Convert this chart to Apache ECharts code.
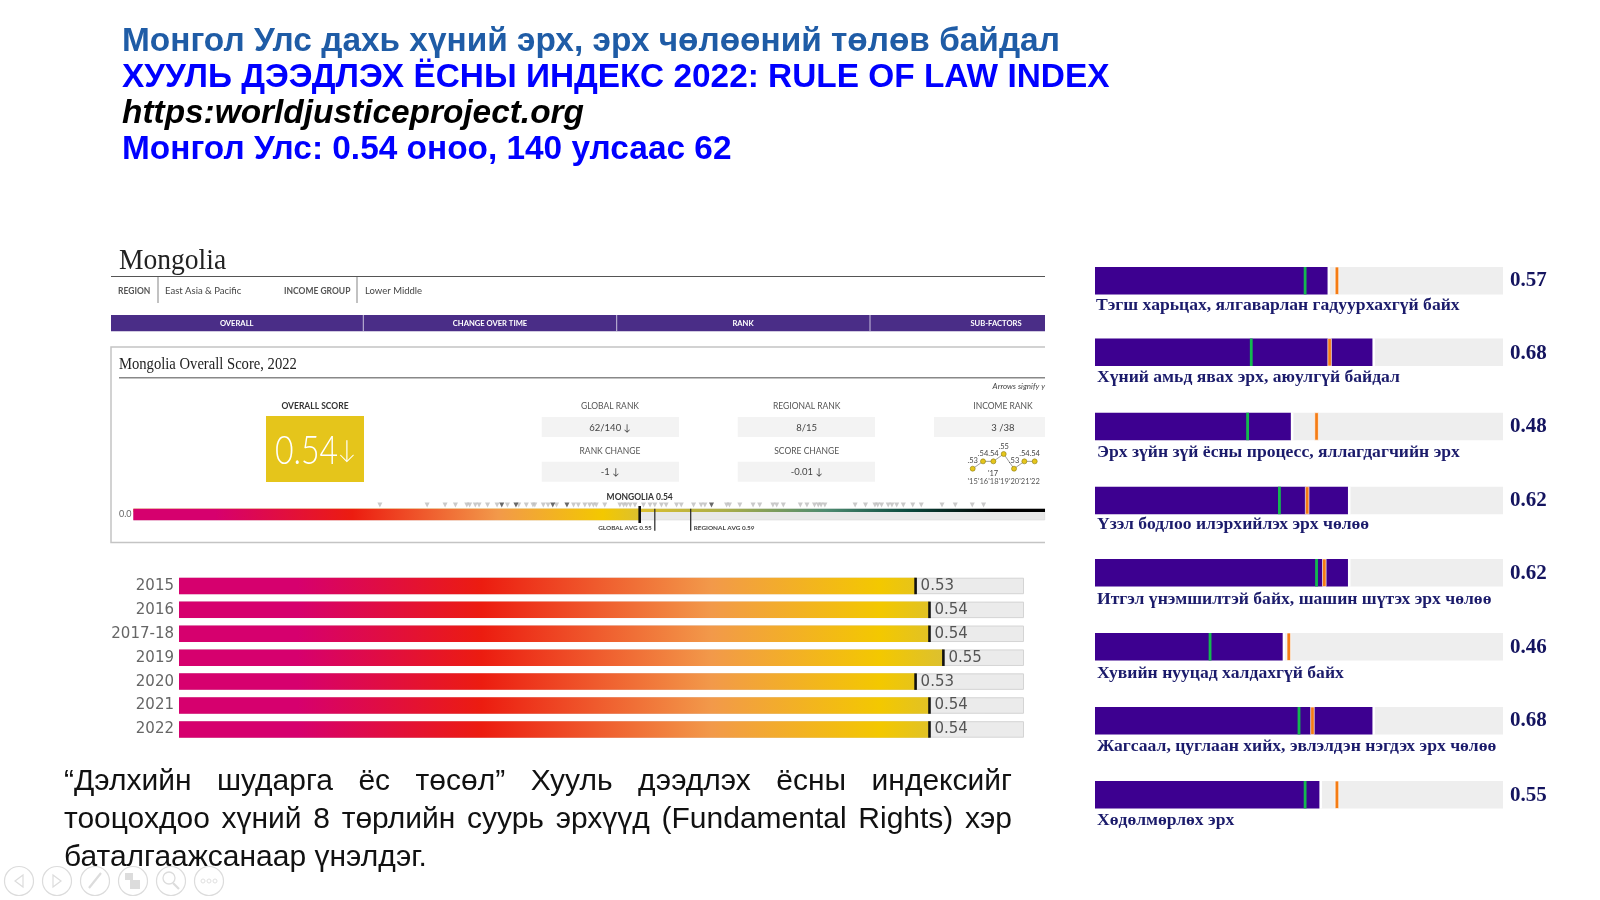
<!DOCTYPE html>
<html><head><meta charset="utf-8">
<style>html,body{margin:0;padding:0;background:#fff}#c{width:1600px;height:900px}</style>
<script src="https://cdn.jsdelivr.net/npm/echarts@6/dist/echarts.min.js"></script>
</head><body><div id="c"></div>
<script>
// ---------- data ----------
const titleLines = ['Монгол Улс дахь хүний эрх, эрх чөлөөний төлөв байдал','ХУУЛЬ ДЭЭДЛЭХ ЁСНЫ ИНДЕКС 2022: RULE OF LAW INDEX','https:worldjusticeproject.org','Монгол Улс: 0.54 оноо, 140 улсаас 62'];
const yearLabels = ['2015','2016','2017-18','2019','2020','2021','2022'];
const yearScores = [0.53,0.54,0.54,0.55,0.53,0.54,0.54];
const rightCategories = ['Тэгш харьцах, ялгаварлан гадуурхахгүй байх','Хүний амьд явах эрх, аюулгүй байдал','Эрх зүйн зүй ёсны процесс, яллагдагчийн эрх','Үзэл бодлоо илэрхийлэх эрх чөлөө','Итгэл үнэмшилтэй байх, шашин шүтэх эрх чөлөө','Хувийн нууцад халдахгүй байх','Жагсаал, цуглаан хийх, эвлэлдэн нэгдэх эрх чөлөө','Хөдөлмөрлөх эрх'];
const rightScores = [0.57,0.68,0.48,0.62,0.62,0.46,0.68,0.55];
const rightGreen = [0.515,0.383,0.374,0.452,0.543,0.282,0.50,0.515];
const rightOrange = [0.593,0.575,0.543,0.52,0.562,0.475,0.533,0.593];
const miniYears = ["'15","'16","'18","'19","'20","'21","'22"];
const miniScores = [0.53,0.54,0.54,0.55,0.53,0.54,0.54];
const miniLabels = ['.53','.54','.54','.55','.53','.54','.54'];
const countryMarks = [.261,.311,.330,.341,.353,.356,.362,.366,.375,.385,.396,.408,.416,.423,.425,.434,.439,.448,.466,.471,.478,.483,.487,.490,.499,.515,.519,.522,.526,.531,.540,.547,.552,.559,.564,.575,.580,.593,.601,.605,.628,.631,.642,.656,.663,.677,.681,.688,.706,.713,.721,.725,.728,.732,.764,.775,.785,.788,.792,.799,.803,.808,.815,.825,.834,.856,.870,.888,.900];
const countryMarksDark = [.390,.405,.444,.459,.612];
const scoreMarks = [{v:.536,name:'MONGOLIA 0.54'},{v:.552,name:'GLOBAL AVG 0.55'},{v:.590,name:'REGIONAL AVG 0.59'}];
const mongoliaBar = 0.536;
const paragraph = ['“Дэлхийн шударга ёс төсөл” Хууль дээдлэх ёсны индексийг','тооцохдоо хүний 8 төрлийн суурь эрхүүд (Fundamental Rights) хэр','баталгаажсанаар үнэлдэг.'];
const statCols = [['GLOBAL RANK','62/140 ↓','RANK CHANGE','-1 ↓'],['REGIONAL RANK','8/15','SCORE CHANGE','-0.01 ↓'],['INCOME RANK','3 /38']];
const headerTabs = ['OVERALL','CHANGE OVER TIME','RANK','SUB-FACTORS'];

// ---------- layout ----------
const W = 1600, H = 900;
const rowTops = [267,338.5,412.7,486.7,559,633,707,781];
const rowLabelY = [305,377.7,452,524,599,673.7,746.7,820];
const rowLabelX = [1096,1097,1097,1097,1097,1097,1097,1097];
const rowValueShift = [0,1,0,0,1,1,0,1];
const SANS = '"Liberation Sans", Arial, sans-serif', SERIF='"Liberation Serif", serif', LATO='Lato, sans-serif';
const G = echarts.graphic;
const heatStops = [{offset:0,color:'#d6006e'},{offset:.14,color:'#d6006e'},{offset:.358,color:'#ec1c10'},{offset:.63,color:'#f2994a'},{offset:.83,color:'#f3c800'},{offset:.905,color:'#dcc030'},{offset:1,color:'#dcc030'}];
const yearGrad = new G.LinearGradient(179,0,1024,0,heatStops,true);
const distGrad = new G.LinearGradient(133.3,0,1045,0,[{offset:0,color:'#d6006e'},{offset:.09,color:'#d6006e'},{offset:.24,color:'#ec1c10'},{offset:.40,color:'#f2994a'},{offset:.515,color:'#f3c800'},{offset:.556,color:'#dcc030'},{offset:1,color:'#dcc030'}],true);
const stripGrad = new G.LinearGradient(133.3,0,1045,0,[{offset:0,color:'#e5c51b'},{offset:.556,color:'#dcc030'},{offset:.65,color:'#a9ad4a'},{offset:.76,color:'#4d8a70'},{offset:.85,color:'#0b4a3e'},{offset:.945,color:'#000'},{offset:1,color:'#000'}],true);

// ---------- graphic helpers ----------
const gfx = [];
function txt(x,y,text,font,fill,align,sx){gfx.push({type:'text',x,y,scaleX:sx||1,silent:true,style:{text,font,fill,align:align||'left',verticalAlign:'middle'}});}
function rect(x,y,w,h,fill){gfx.push({type:'rect',silent:true,shape:{x,y,width:w,height:h},style:{fill}});}
function line(x1,y1,x2,y2,stroke,lw){gfx.push({type:'line',silent:true,shape:{x1,y1,x2,y2},style:{stroke,lineWidth:lw||1}});}

// titles
const titleFont='bold 33.4px '+SANS;
txt(122,42,titleLines[0],titleFont,'#1f5ca6');
txt(122,77.5,titleLines[1],titleFont,'#0000ff');
txt(122,113.5,titleLines[2],'italic bold 33.4px '+SANS,'#000');
txt(122,149.5,titleLines[3],titleFont,'#0000ff');

// header
txt(119,261,'Mongolia','29px '+SERIF,'#222','left',.95);
line(111,276.5,1045,276.5,'#555',1.2);
txt(118,291,'REGION','bold 8.5px '+LATO,'#555');
line(158,277,158,303,'#999',1.2);
txt(165,290.5,'East Asia & Pacific','9.5px '+LATO,'#444');
txt(284,291,'INCOME GROUP','bold 8.5px '+LATO,'#555');
line(357,277,357,303,'#999',1.2);
txt(365,290.5,'Lower Middle','9.5px '+LATO,'#444');
rect(111,315,934,16.3,'#4a2d87');
[363.3,616.7,870].forEach(x=>line(x,315,x,331.3,'#c9c2dd',1));
[236.7,490,743,996].forEach((x,i)=>txt(x,323.5,headerTabs[i],'bold 7.6px '+LATO,'#fff','center'));
// panel
gfx.push({type:'polyline',silent:true,shape:{points:[[1045,347],[111,347],[111,542.5],[1045,542.5]]},style:{stroke:'#c4c4c4',lineWidth:1.5,fill:null}});
txt(119,365,'Mongolia Overall Score, 2022','17px '+SERIF,'#222','left',.86);
line(119,377.7,1045,377.7,'#888',1.4);
txt(1045,386,'Arrows signify y','italic 8px '+LATO,'#444','right');
txt(315,406,'OVERALL SCORE','bold 8.5px '+LATO,'#333','center');
rect(266,416,98,66,'#e5c51b');
txt(275,451,'0.54','300 39px '+LATO,'#fff','left',.82);
txt(347,450,'↓','300 25px '+LATO,'#fff','center');
// stat blocks
[[541.7,137.3,610],[737.7,137.3,806.7],[934,111,1003]].forEach((c,i)=>{
  const s=statCols[i];
  txt(c[2],406.5,s[0],'8.5px '+LATO,'#555','center');
  rect(c[0],417,c[1],20,'#f3f3f3');
  txt(c[2],427.5,s[1],'9.5px '+LATO,'#444','center');
  if(s[2]){
    txt(c[2],451.5,s[2],'8.5px '+LATO,'#555','center');
    rect(c[0],461.7,c[1],20,'#f3f3f3');
    txt(c[2],472,s[3],'9.5px '+LATO,'#444','center');
  }
});
txt(993,474,"'17",'7.5px '+LATO,'#444','center');
txt(119,514.5,'0.0','9px '+LATO,'#666');

// paragraph, justified to the text block
const mctx=document.createElement('canvas').getContext('2d');
const paraFont='30px '+SANS; mctx.font=paraFont;
paragraph.forEach((ln,i)=>{
  const words=ln.split(' '), y=782+i*38, x0=64, x1=1012;
  const total=words.reduce((a,w)=>a+mctx.measureText(w).width,0);
  const gap=i<paragraph.length-1?(x1-x0-total)/(words.length-1):mctx.measureText(' ').width;
  let x=x0;
  words.forEach(w=>{txt(x,y,w,paraFont,'#111');x+=mctx.measureText(w).width+gap;});
});

// right labels
rightCategories.forEach((c,i)=>txt(rowLabelX[i],rowLabelY[i],c,'bold 17.6px '+SERIF,'#1b1b6b'));

// slideshow controls
const navC='#dcdcdc';
[19,57,95,133,171,209].forEach(x=>gfx.push({type:'circle',silent:true,shape:{cx:x,cy:881,r:14.5},style:{fill:'rgba(255,255,255,.6)',stroke:navC,lineWidth:1.2}}));
gfx.push({type:'polygon',silent:true,shape:{points:[[23,875],[15,881],[23,887]]},style:{fill:null,stroke:navC,lineWidth:1.2}});
gfx.push({type:'polygon',silent:true,shape:{points:[[53,875],[61,881],[53,887]]},style:{fill:null,stroke:navC,lineWidth:1.2}});
line(89,888,101,873,navC,2.2);
rect(125,873,8,7,navC);rect(130,880,10,9,navC);
gfx.push({type:'circle',silent:true,shape:{cx:169,cy:878,r:6},style:{fill:null,stroke:navC,lineWidth:1.3}});
line(173,883,179,889,navC,2.2);
[203,209,215].forEach(x=>gfx.push({type:'circle',silent:true,shape:{cx:x,cy:881,r:2},style:{fill:null,stroke:navC,lineWidth:.9}}));

// ---------- option pieces ----------
const grids=[], xAxes=[], yAxes=[], series=[];
function addGrid(left,top,width,height,xCfg,yCfg){
  const i=grids.length;
  grids.push({left,top,width,height,containLabel:false});
  xAxes.push(Object.assign({gridIndex:i,type:'value',min:0,max:1,show:false},xCfg||{}));
  yAxes.push(Object.assign({gridIndex:i,type:'category',data:['a'],show:false},yCfg||{}));
  return i;
}
function tickSeries(i,data,w,h,fill,stroke,z){
  series.push({type:'custom',xAxisIndex:i,yAxisIndex:i,z:z||5,silent:true,clip:false,encode:{x:0,y:1},data,
    renderItem:(p,api)=>{const c=api.coord([api.value(0),api.value(1)]);
      return {type:'rect',shape:{x:c[0]-w/2,y:c[1]-h/2,width:w,height:h},style:{fill,stroke:stroke||null,lineWidth:stroke?1:0}};}});
}

// year bars
const yg=addGrid(179,574,845,167.4,{max:0.608},{show:true,data:yearLabels,inverse:true,axisLine:{show:false},axisTick:{show:false},
  axisLabel:{margin:5,color:'#666',fontFamily:'"DejaVu Sans"',fontSize:15}});
series.push({type:'bar',name:'track',xAxisIndex:yg,yAxisIndex:yg,barWidth:16.5,barGap:'-100%',z:2,silent:true,
  itemStyle:{color:'#ebebeb',borderColor:'#d4d4d4',borderWidth:1},data:yearLabels.map(()=>0.608)});
series.push({type:'bar',name:'score',xAxisIndex:yg,yAxisIndex:yg,barWidth:16.5,barGap:'-100%',z:3,silent:true,
  itemStyle:{color:yearGrad},data:yearScores,
  label:{show:true,position:'right',distance:5,formatter:p=>p.value.toFixed(2),color:'#555',fontFamily:'"DejaVu Sans"',fontSize:15}});
tickSeries(yg,yearScores.map((v,i)=>[v,i]),2.6,16.5,'#111');

// distribution bar
const dg=addGrid(133.3,508.7,911.7,11.6,{max:0.965});
series.push({type:'bar',xAxisIndex:dg,yAxisIndex:dg,barWidth:11.6,barGap:'-100%',z:2,silent:true,itemStyle:{color:'#e8e8e8',borderColor:'#d8d8d8',borderWidth:.6},data:[0.965]});
series.push({type:'bar',xAxisIndex:dg,yAxisIndex:dg,barWidth:11.6,barGap:'-100%',z:3,silent:true,itemStyle:{color:distGrad},data:[mongoliaBar]});
const sg=addGrid(133.3,508.7,911.7,3.2,{max:0.965});
series.push({type:'bar',xAxisIndex:sg,yAxisIndex:sg,barWidth:3.2,z:2.5,silent:true,itemStyle:{color:stripGrad},data:[0.965]});
const mg=addGrid(133.3,502,911.7,6,{max:0.965});
series.push({type:'scatter',xAxisIndex:mg,yAxisIndex:mg,symbol:'triangle',symbolRotate:180,symbolSize:[5,5],z:3,silent:true,itemStyle:{color:'#bdbdbd'},data:countryMarks.map(v=>[v,0])});
series.push({type:'scatter',xAxisIndex:mg,yAxisIndex:mg,symbol:'triangle',symbolRotate:180,symbolSize:[5,5],z:4,silent:true,itemStyle:{color:'#444'},data:countryMarksDark.map(v=>[v,0])});
tickSeries(dg,[[scoreMarks[0].v,0]],2.6,17,'#111',null,6);
series.push({type:'custom',xAxisIndex:dg,yAxisIndex:dg,z:6,silent:true,clip:false,encode:{x:0,y:1},data:scoreMarks.map(m=>[m.v,0]),
  renderItem:(p,api)=>{const c=api.coord([api.value(0),0]), m=scoreMarks[p.dataIndex];
    if(p.dataIndex===0) return {type:'text',style:{x:c[0],y:497,text:m.name,font:'bold 8.5px '+LATO,fill:'#333',align:'center',verticalAlign:'middle'}};
    const right=p.dataIndex===2;
    return {type:'group',children:[
      {type:'rect',shape:{x:c[0]-.6,y:508.7,width:1.2,height:22},style:{fill:'#222'}},
      {type:'text',style:{x:c[0]+(right?3:-3),y:527.5,text:m.name,font:'bold 6.4px '+LATO,fill:'#444',align:right?'left':'right',verticalAlign:'middle'}}
    ]};}});

// mini line
const lg=addGrid(972.7,454,62,14.7,{type:'category',show:true,boundaryGap:false,data:miniYears,min:null,max:null,
  axisLine:{show:false},axisTick:{show:false},axisLabel:{margin:9,interval:0,color:'#555',fontFamily:'Lato',fontSize:7.5}},
  {type:'value',min:0.53,max:0.55,show:false,data:null});
series.push({type:'line',xAxisIndex:lg,yAxisIndex:lg,z:4,silent:true,data:miniScores,symbol:'circle',symbolSize:5,clip:false,
  lineStyle:{color:'#888',width:.8},itemStyle:{color:'#e5c51b',borderColor:'#8a7a10',borderWidth:.6},
  label:{show:true,position:'top',distance:1,formatter:p=>miniLabels[p.dataIndex],color:'#444',fontFamily:'Lato',fontSize:7.5}});

// right rows
rowTops.forEach((top,i)=>{
  const g=addGrid(1095,top,408,27.5);
  series.push({type:'bar',xAxisIndex:g,yAxisIndex:g,barWidth:27.5,barGap:'-100%',z:2,silent:true,itemStyle:{color:'#eeeeee'},data:[1],
    label:{show:true,position:'right',distance:7,offset:[0,rowValueShift[i]],formatter:()=>rightScores[i].toFixed(2),color:'#14145f',fontFamily:'Liberation Serif',fontWeight:'bold',fontSize:21}});
  series.push({type:'bar',xAxisIndex:g,yAxisIndex:g,barWidth:27.5,barGap:'-100%',z:3,silent:true,
    itemStyle:{color:'#3d0090',borderWidth:0,shadowColor:'#fff',shadowBlur:0,shadowOffsetX:2.5},data:[rightScores[i]]});
  tickSeries(g,[[rightOrange[i],0]],3.6,27.5,'#f57c14','rgba(255,255,255,.65)',6);
  tickSeries(g,[[rightGreen[i],0]],2.8,27.5,'#14b84f',null,5);
});

const chart=echarts.init(document.getElementById('c'),null,{renderer:'canvas',width:W,height:H});
chart.setOption({animation:false,backgroundColor:'#fff',grid:grids,xAxis:xAxes,yAxis:yAxes,series,graphic:{elements:gfx}});
</script></body></html>
